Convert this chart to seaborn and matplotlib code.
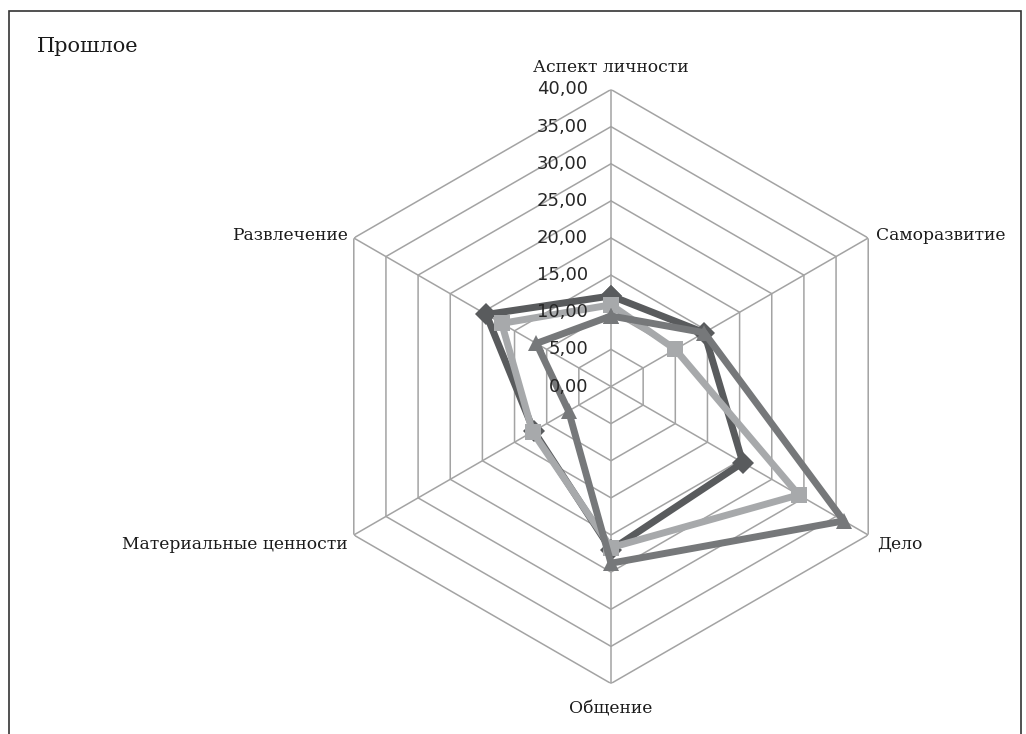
import numpy as np
import pandas as pd
import matplotlib
matplotlib.use("Agg")
import matplotlib.pyplot as plt
import seaborn as sns

categories = ["Аспект личности", "Саморазвитие", "Дело", "Общение",
              "Материальные ценности", "Развлечение"]
series_dark = [12.2, 14.5, 20.5, 22.0, 12.0, 19.4]
series_light = [11.0, 10.0, 29.2, 21.7, 12.2, 17.0]
series_mid = [9.5, 14.5, 36.2, 23.8, 6.6, 11.6]
levels = [0, 5, 10, 15, 20, 25, 30, 35, 40]
level_labels = ["0,00", "5,00", "10,00", "15,00", "20,00", "25,00", "30,00", "35,00", "40,00"]
title = "Прошлое"

sns.set_theme(style="white")
plt.rcParams["font.family"] = ["DejaVu Serif"]

W, H = 1026, 734
fig = plt.figure(figsize=(W / 100, H / 100), dpi=100)
fig.patch.set_facecolor("white")

cx, cy, R = 611, 386.5, 297
ax = fig.add_axes([(cx - R) / W, (H - cy - R) / H, 2 * R / W, 2 * R / H], projection="polar")
ax.set_theta_zero_location("N")
ax.set_theta_direction(-1)
ax.set_ylim(0, 40)
ax.grid(False)
ax.spines["polar"].set_visible(False)
ax.set_xticks([])
ax.set_yticks([])
ax.set_facecolor("none")

n = len(categories)
angles = np.arange(n) * 2 * np.pi / n
ang_closed = np.append(angles, 2 * np.pi)

grid_col = "#a3a3a3"
for lvl in levels[1:]:
    ax.plot(ang_closed, [lvl] * (n + 1), color=grid_col, lw=1.1, zorder=1)
for a in angles:
    ax.plot([a, a], [0, 40], color=grid_col, lw=1.1, zorder=1)

styles = [
    (series_dark, "#595b5d", "D", 11),
    (series_light, "#a7a9ab", "s", 11),
    (series_mid, "#76787a", "^", 12),
]
for vals, col, mk, ms in styles:
    df = pd.DataFrame({"angle": ang_closed, "value": list(vals) + [vals[0]]})
    sns.lineplot(data=df, x="angle", y="value", ax=ax, sort=False, estimator=None,
                 color=col, lw=5, marker=mk, markersize=ms, markeredgewidth=0,
                 zorder=3)
ax.set_xlabel("")
ax.set_ylabel("")
ax.set_ylim(0, 40)

for lvl, lab in zip(levels, level_labels):
    ax.annotate(lab, xy=(0, lvl), xytext=(-23, 0), textcoords="offset pixels",
                ha="right", va="center", fontsize=13, color="#262626",
                family="DejaVu Sans", zorder=4)

offsets = [
    (0, 22, "center", "center"),
    (8, 2, "left", "center"),
    (9, -9, "left", "center"),
    (0, -26, "center", "center"),
    (-6, -9, "right", "center"),
    (-6, 3, "right", "center"),
]
for a, cat, (dx, dy, ha, va) in zip(angles, categories, offsets):
    ax.annotate(cat, xy=(a, 40), xytext=(dx, dy), textcoords="offset pixels",
                ha=ha, va=va, fontsize=12.3, color="#1a1a1a", annotation_clip=False)

fig.text(37 / W, 1 - 46 / H, title, ha="left", va="center", fontsize=15, color="#1a1a1a")

fig.add_artist(plt.Rectangle((9 / W, -0.05), (1021 - 9) / W, 1 - 11 / H + 0.05,
                             transform=fig.transFigure, fill=False, ec="#333333", lw=1.2))

fig.savefig("out.png", dpi=100)
